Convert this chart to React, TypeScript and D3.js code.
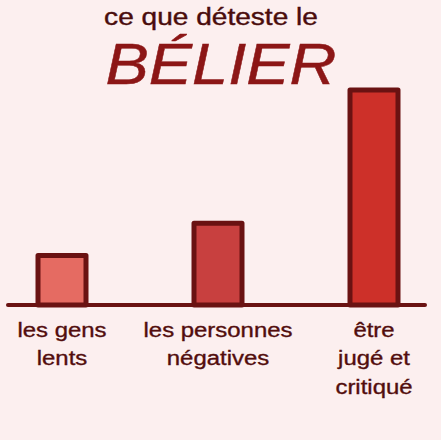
import React from "react";
import { scalePoint, scaleLinear } from "d3";

const categories = ["les gens lents", "les personnes négatives", "être jugé et critiqué"];
const values = [23, 38, 100];
const labelLines = [["les gens", "lents"], ["les personnes", "négatives"], ["être", "jugé et", "critiqué"]];
const fills = ["#e56b62", "#c8403f", "#cd3029"];

const W = 441;
const H = 440;
const baseY = 305;

const App = () => {
  const x = scalePoint<string>().domain(categories).range([62, 374]);
  const y = scaleLinear().domain([0, 100]).range([baseY, 90]);
  const barW = 48;
  const ink = "#6a1212";
  const font = "Liberation Sans, Arial, sans-serif";

  return (
    <svg width={W} height={H} style={{ position: "absolute", left: 0, top: 0, background: "#fcefef" }}>
      <rect width={W} height={H} fill="#fcefef" />
      <g transform="translate(211,0) scale(1.17,1)">
        <text x={0} y={25} textAnchor="middle" fontFamily={font} fontSize={24} fill="#4a0c0c" stroke="#4a0c0c" strokeWidth={0.4}>
          ce que déteste le
        </text>
      </g>
      <g transform="translate(221,0) scale(1.12,1)">
        <text x={0} y={84} textAnchor="middle" fontFamily={font} fontStyle="italic" fontSize={58} fill="#8c1616" stroke="#8c1616" strokeWidth={0.5}>
          BÉLIER
        </text>
      </g>
      {categories.map((c, i) => (
        <rect
          key={c}
          x={(x(c) as number) - barW / 2}
          y={y(values[i])}
          width={barW}
          height={baseY - y(values[i])}
          fill={fills[i]}
          stroke={ink}
          strokeWidth={5}
          strokeLinejoin="round"
        />
      ))}
      <line x1={8} x2={425} y1={baseY} y2={baseY} stroke={ink} strokeWidth={4} strokeLinecap="round" />
      {categories.map((c, i) => (
        <g key={c} transform={`translate(${x(c)},0) scale(1.14,1)`}>
          <text textAnchor="middle" fontFamily={font} fontSize={21} fill="#520d0d" stroke="#520d0d" strokeWidth={0.35}>
            {labelLines[i].map((t, j) => (
              <tspan key={t} x={0} y={337 + j * 28.5}>
                {t}
              </tspan>
            ))}
          </text>
        </g>
      ))}
    </svg>
  );
};

export default App;
